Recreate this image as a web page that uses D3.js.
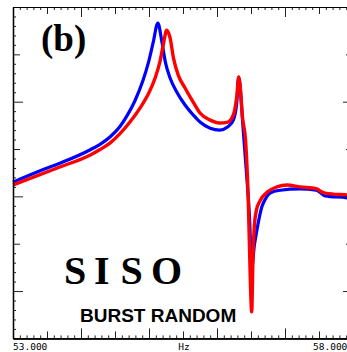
<!DOCTYPE html>
<html>
<head>
<meta charset="utf-8">
<script src="https://cdn.jsdelivr.net/npm/d3@7"></script>
<style>
  html, body { margin: 0; padding: 0; background: #fff; }
  svg { display: block; }
</style>
</head>
<body>
<svg id="chart" width="347" height="352"></svg>
<script>
// ---- data (frequency in Hz, magnitude in dB) ----
const blueFreq = [53.00, 53.40, 53.69, 54.13, 54.28, 54.43, 54.57, 54.68, 54.79, 54.91, 54.99, 55.06, 55.13,
  55.19, 55.24, 55.31, 55.41, 55.53, 55.65, 55.75, 55.90, 56.04, 56.16, 56.24, 56.29, 56.32,
  56.38, 56.43, 56.48, 56.51, 56.55, 56.58, 56.62, 56.66, 56.71, 56.78, 56.93, 57.22, 57.46,
  57.51, 57.59, 57.91, 58.00];
const blueMag = [-37.0, -34.6, -33.0, -30.2, -29.0, -27.4, -25.3, -22.9, -19.9, -15.6, -11.8, -7.6, -3.4,
  -7.4, -11.6, -15.0, -18.0, -20.7, -22.8, -24.3, -25.6, -26.0, -25.3, -23.9, -20.3, -14.8,
  -24.9, -34.4, -45.0, -55.1, -50.3, -47.7, -44.6, -42.2, -40.6, -39.3, -38.7, -38.4, -38.7,
  -39.1, -39.9, -40.3, -40.5];

const redFreq = [53.00, 53.69, 54.13, 54.28, 54.43, 54.57, 54.72, 54.87, 54.99, 55.09, 55.16, 55.21, 55.26, 55.31,
  55.36, 55.43, 55.53, 55.65, 55.75, 55.90, 56.04, 56.16, 56.24, 56.29, 56.32, 56.38, 56.42,
  56.46, 56.49, 56.51, 56.53, 56.55, 56.58, 56.63, 56.74, 56.88, 57.03, 57.22, 57.47, 57.51,
  57.59, 57.91, 58.00];
const redMag = [-37.6, -33.8, -31.3, -30.1, -28.7, -26.8, -24.3, -21.3, -18.4, -15.0, -11.6, -8.0, -4.9, -6.5,
  -10.8, -14.4, -17.1, -20.1, -22.4, -23.9, -24.5, -24.3, -22.8, -19.0, -14.8, -23.9, -28.1,
  -40.8, -57.7, -64.4, -52.4, -46.1, -42.9, -41.0, -39.1, -38.0, -37.6, -38.0, -38.4, -38.8,
  -39.3, -39.7, -39.8];

const xTickLabels = ["53.000", "Hz", "58.000"];
const xDomain = [53, 58];
const yDomain = [-70, 0];

// ---- layout ----
const svg = d3.select("#chart");
const padL = 13, padR = 353, padT = 7, padB = 338.4;

const x = d3.scaleLinear().domain(xDomain).range([padL, padR]);
const y = d3.scaleLinear().domain(yDomain).range([padB, padT]);

// ---- curves ----
const line = d3.line()
  .x(d => x(d[0]))
  .y(d => y(d[1]))
  .curve(d3.curveMonotoneX);

svg.append("path")
  .datum(blueFreq.map((f, i) => [f, blueMag[i]]))
  .attr("d", line)
  .attr("fill", "none")
  .attr("stroke", "#0000ff")
  .attr("stroke-width", 3.2)
  .attr("stroke-linejoin", "round");

svg.append("path")
  .datum(redFreq.map((f, i) => [f, redMag[i]]))
  .attr("d", line)
  .attr("fill", "none")
  .attr("stroke", "#ff0000")
  .attr("stroke-width", 3.4)
  .attr("stroke-linejoin", "round");

// ---- axes (ticks pointing inward) ----
const minorX = d3.range(0, 51).map(i => 53 + i * 0.1).filter(v => Math.abs(v * 2 - Math.round(v * 2)) > 1e-6);
const medX = [53.5, 54.5, 55.5, 56.5, 57.5];
const majX = [54, 55, 56, 57];
const minorY = d3.range(-70, 1, 2).filter(v => v % 10 !== 0);
const medY = [-10, -30, -50];
const majY = [-20, -40, -60];

function addAxis(gen, transform, vals, len) {
  const g = svg.append("g").attr("transform", transform)
    .call(gen.tickValues(vals).tickSizeInner(-len).tickSizeOuter(0).tickFormat(""));
  g.selectAll("line").attr("stroke", "#222").attr("stroke-width", 1);
  g.select(".domain").attr("stroke", "#000").attr("stroke-width", 1.2);
  return g;
}
[[minorX, 3], [medX, 7], [majX, 10]].forEach(([v, l]) => {
  addAxis(d3.axisBottom(x), `translate(0,${padB})`, v, l);
  addAxis(d3.axisTop(x), `translate(0,${padT})`, v, l);
});
[[minorY, 3], [medY, 7], [majY, 10]].forEach(([v, l]) => {
  addAxis(d3.axisLeft(y), `translate(${padL},0)`, v, l);
  addAxis(d3.axisRight(y), `translate(${padR},0)`, v, l);
});

// ---- x labels ----
const mono = "'DejaVu Sans Mono', monospace";
svg.append("text").attr("x", padL).attr("y", 350)
  .attr("font-family", mono).attr("font-size", 9.5).attr("fill", "#000")
  .text(xTickLabels[0]);
svg.append("text").attr("x", x(55.5) + 1).attr("y", 350).attr("text-anchor", "middle")
  .attr("font-family", mono).attr("font-size", 9.5).attr("fill", "#000")
  .text(xTickLabels[1]);
svg.append("text").attr("x", 313).attr("y", 350)
  .attr("font-family", mono).attr("font-size", 9.5).attr("fill", "#000")
  .text(xTickLabels[2]);

// ---- annotations ----
svg.append("text").attr("x", 41).attr("y", 51)
  .attr("font-family", "'Liberation Serif', 'Times New Roman', serif")
  .attr("font-weight", "bold").attr("font-size", 37).attr("fill", "#000")
  .text("(b)");

const siso = svg.append("text").attr("y", 284)
  .attr("font-family", "'Liberation Serif', 'Times New Roman', serif")
  .attr("font-weight", "bold").attr("font-size", 40).attr("fill", "#000");
const sisoLetters = ["S", "I", "S", "O"];
const sisoX = [64, 94, 120.5, 151];
sisoLetters.forEach((ch, i) => {
  siso.append("tspan").attr("x", sisoX[i]).text(ch);
});

svg.append("text").attr("x", 80).attr("y", 322)
  .attr("font-family", "'Liberation Sans', Arial, sans-serif")
  .attr("font-weight", "bold").attr("font-size", 19).attr("fill", "#000")
  .text("BURST RANDOM");
</script>
</body>
</html>
